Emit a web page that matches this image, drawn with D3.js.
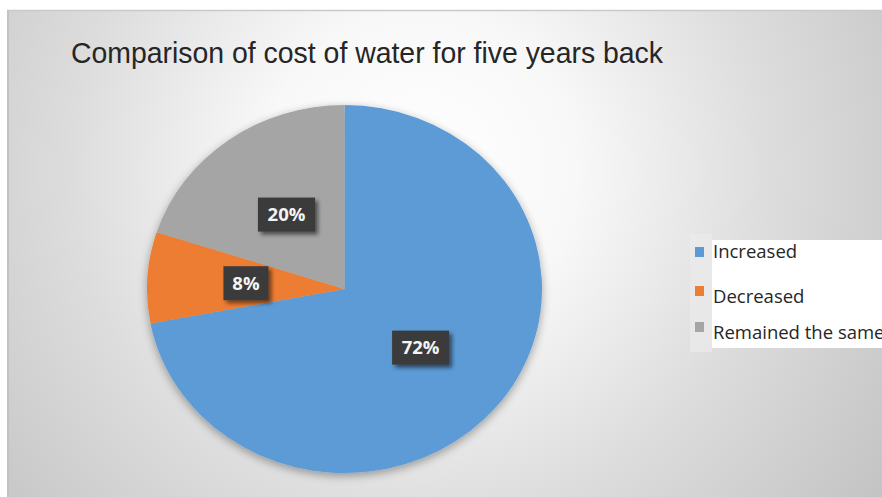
<!DOCTYPE html>
<html>
<head>
<meta charset="utf-8">
<script src="https://cdn.jsdelivr.net/npm/d3@7"></script>
<style>
  html, body { margin: 0; padding: 0; background: #ffffff; }
  svg { display: block; }
</style>
</head>
<body>
<svg id="chart" width="882" height="497"></svg>
<script>
// Survey answers and their shares (percent)
const categories = ["Increased", "Decreased", "Remained the same"];
const shares = [72, 8, 20];
const colors = ["#5b9bd5", "#ed7d31", "#a5a5a5"];
const titleText = "Comparison of cost of water for five years back";

const W = 882, H = 497;
const svg = d3.select("#chart");
const defs = svg.append("defs");

// Soft radial backdrop of the chart area
const bg = defs.append("radialGradient")
  .attr("id", "bgGrad")
  .attr("gradientUnits", "userSpaceOnUse")
  .attr("cx", 420).attr("cy", 170).attr("r", 560);
[[0, "#ffffff"], [0.28, "#f8f8f8"], [0.62, "#dddddd"], [1, "#c4c4c4"]]
  .forEach(([o, c]) => bg.append("stop").attr("offset", o).attr("stop-color", c));

// Shadow beneath the pie
const pieShadow = defs.append("filter").attr("id", "pieShadow")
  .attr("x", "-20%").attr("y", "-20%").attr("width", "140%").attr("height", "140%");
pieShadow.append("feGaussianBlur").attr("in", "SourceAlpha").attr("stdDeviation", 5).attr("result", "b");
pieShadow.append("feOffset").attr("in", "b").attr("dx", 0).attr("dy", 3).attr("result", "o");
pieShadow.append("feComponentTransfer").attr("in", "o").attr("result", "s")
  .append("feFuncA").attr("type", "linear").attr("slope", 0.35);
const pm = pieShadow.append("feMerge");
pm.append("feMergeNode").attr("in", "s");
pm.append("feMergeNode").attr("in", "SourceGraphic");

// Shadow for the value tags
const tagShadow = defs.append("filter").attr("id", "tagShadow")
  .attr("x", "-30%").attr("y", "-30%").attr("width", "170%").attr("height", "170%");
tagShadow.append("feGaussianBlur").attr("in", "SourceAlpha").attr("stdDeviation", 2).attr("result", "b");
tagShadow.append("feOffset").attr("in", "b").attr("dx", 3).attr("dy", 3).attr("result", "o");
tagShadow.append("feComponentTransfer").attr("in", "o").attr("result", "s")
  .append("feFuncA").attr("type", "linear").attr("slope", 0.55);
const tm = tagShadow.append("feMerge");
tm.append("feMergeNode").attr("in", "s");
tm.append("feMergeNode").attr("in", "SourceGraphic");

// Chart area
svg.append("rect").attr("x", 7).attr("y", 10).attr("width", W - 7).attr("height", H - 10)
  .attr("fill", "url(#bgGrad)");
svg.append("line").attr("x1", 7).attr("x2", W).attr("y1", 10.5).attr("y2", 10.5)
  .attr("stroke", "#c9c9c9").attr("stroke-width", 1.5);
svg.append("line").attr("x1", 8).attr("x2", 8).attr("y1", 10).attr("y2", H)
  .attr("stroke", "#c2c2c2").attr("stroke-width", 2);

// Title
svg.append("text")
  .attr("x", 71).attr("y", 63)
  .attr("font-family", "Liberation Sans, Arial, sans-serif")
  .attr("font-size", 30)
  .attr("fill", "#262626")
  .attr("textLength", 592).attr("lengthAdjust", "spacingAndGlyphs")
  .text(titleText);

// Pie (drawn round, then stretched to the slightly wide ellipse)
const cx = 344.5, cy = 289, rx = 197.5, ry = 184;
const pie = d3.pie().sort(null).value(d => d)(shares);
const arc = d3.arc().innerRadius(0).outerRadius(rx);
const labelArc = d3.arc().innerRadius(rx * 0.5).outerRadius(rx * 0.5);
const sy = ry / rx;

const pieG = svg.append("g")
  .attr("transform", `translate(${cx},${cy}) scale(1,${sy})`)
  .attr("filter", "url(#pieShadow)");
pieG.selectAll("path").data(pie).join("path")
  .attr("d", arc)
  .attr("fill", (d, i) => colors[i]);

// Value tags
const tags = svg.append("g").attr("transform", `translate(${cx},${cy})`);
pie.forEach((d, i) => {
  const [lx, ly] = labelArc.centroid(d);
  const txt = shares[i] + "%";
  const w = txt.length === 2 ? 45 : 57, h = 34;
  const g = tags.append("g").attr("transform", `translate(${lx},${ly * sy})`);
  g.append("rect")
    .attr("x", -w / 2).attr("y", -h / 2).attr("width", w).attr("height", h)
    .attr("fill", "#3b3b3b").attr("filter", "url(#tagShadow)");
  g.append("text")
    .attr("text-anchor", "middle").attr("dy", "0.36em")
    .attr("font-family", "Open Sans, Noto Sans, sans-serif")
    .attr("font-weight", "bold").attr("font-size", 18.5)
    .attr("fill", "#f4f4f4")
    .text(txt);
});

// Legend
svg.append("rect").attr("x", 690).attr("y", 234).attr("width", 22).attr("height", 118)
  .attr("fill", "#ebebeb").attr("opacity", 0.7);
svg.append("rect").attr("x", 712).attr("y", 240).attr("width", 190).attr("height", 108)
  .attr("fill", "#ffffff");
const legendY = [252, 291, 327];
const legend = svg.append("g");
categories.forEach((c, i) => {
  legend.append("rect")
    .attr("x", 695).attr("y", legendY[i] - 5).attr("width", 9).attr("height", 10)
    .attr("fill", colors[i]);
  legend.append("text")
    .attr("x", 713).attr("y", legendY[i] + (i === 0 ? 0 : 6))
    .attr("dy", "0.35em")
    .attr("font-family", "Open Sans, Noto Sans, sans-serif")
    .attr("font-size", 18.5)
    .attr("fill", "#262626")
    .text(c);
});
</script>
</body>
</html>
